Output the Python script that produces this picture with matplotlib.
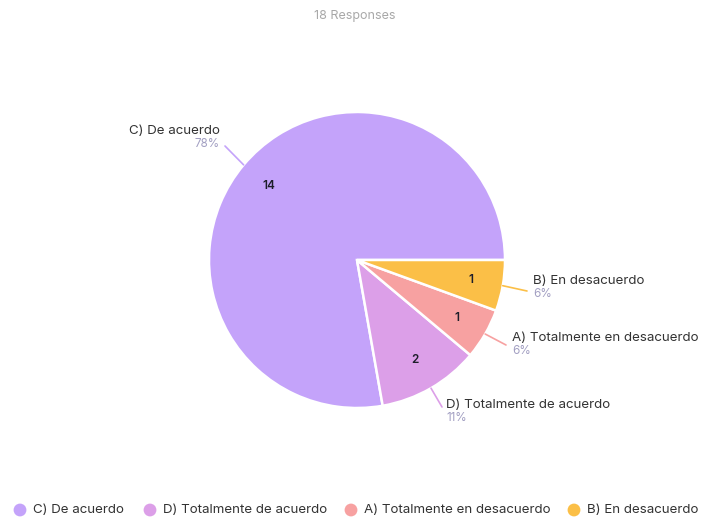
import numpy as np
import matplotlib.pyplot as plt

# respuestas por opcion, en el orden del grafico
labels = ["C) De acuerdo", "D) Totalmente de acuerdo",
          "A) Totalmente en desacuerdo", "B) En desacuerdo"]
counts = [14, 2, 1, 1]
percents = ["78%", "11%", "6%", "6%"]
colors = ["#c4a3fa", "#dc9fe8", "#f7a1a1", "#fbbf47"]
total = sum(counts)

plt.rcParams['font.family'] = ['Inter', 'DejaVu Sans']

W, H = 706, 523
fig = plt.figure(figsize=(W / 100, H / 100), dpi=100)
ax = fig.add_axes([0, 0, 1, 1])

cx, cy, r = 357, H - 260, 148

wedges, _, autotexts = ax.pie(
    counts, colors=colors, startangle=0, counterclock=True,
    center=(cx, cy), radius=r, frame=True,
    autopct=lambda p: "%d" % round(p * total / 100), pctdistance=0.78,
    wedgeprops=dict(edgecolor='white', linewidth=1.8),
    textprops=dict(fontsize=8.5, color='#1e1e2a', fontweight='semibold'))
ax.set_xlim(0, W)
ax.set_ylim(0, H)
ax.set_aspect('equal')
ax.axis('off')

# posiciones de las etiquetas externas (x, y en pixeles desde arriba, alineacion)
label_pos = [(220, 131, 'right'), (446, 405, 'left'),
             (512, 338, 'left'), (533, 281, 'left')]
line_end = [(225, 146), (442, 407), (506, 345), (527, 291)]

for w, (tx, ty, ha), (lx, ly), lab, pct, col in zip(
        wedges, label_pos, line_end, labels, percents, colors):
    ang = np.deg2rad((w.theta1 + w.theta2) / 2)
    x0 = cx + r * np.cos(ang)
    y0 = cy + r * np.sin(ang)
    ax.plot([x0, lx], [y0, H - ly], color=col, lw=1.2, solid_capstyle='round')
    ax.text(tx, H - ty, lab, ha=ha, va='center', fontsize=9.6, color='#333333')
    ax.text(tx, H - ty - 13, pct, ha=ha, va='center',
            fontsize=8.4, color='#a29fc2')

ax.text(W / 2 + 2, H - 16, "18 Responses", ha='center', va='center',
        fontsize=9, color='#a8a8a8')

# leyenda inferior
leg_x = [20, 150, 351, 574]
for x, lab, col in zip(leg_x, labels, colors):
    ax.scatter([x], [H - 510], s=85, color=col, edgecolors='none')
    ax.text(x + 13, H - 510, lab, ha='left', va='center', fontsize=9.6,
            color='#333333')

fig.savefig('out.png', dpi=100)
